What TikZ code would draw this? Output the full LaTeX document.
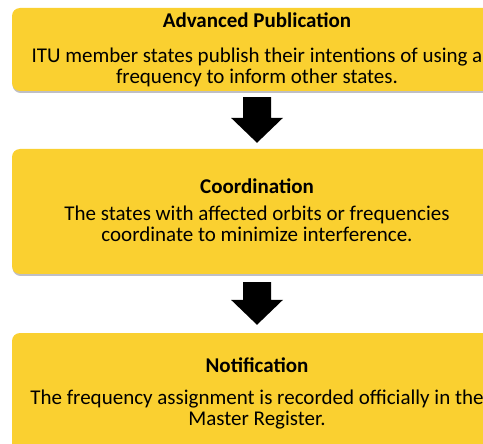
\documentclass[tikz,border=0pt]{standalone}
\usepackage{fontspec}
\setmainfont{Carlito}
\usetikzlibrary{calc,shadows}
\definecolor{boxyellow}{RGB}{250,208,48}
\definecolor{shadowgray}{RGB}{175,175,182}
\begin{document}
\begin{tikzpicture}[x=1pt,y=-1pt,
  stagebox/.style={fill=boxyellow, rounded corners=8pt, minimum width=490pt, inner sep=0pt, draw=none,
    drop shadow={shadow xshift=0.6pt, shadow yshift=-2pt, fill=shadowgray, opacity=0.8}},
  stagetitle/.style={font=\fontsize{21}{21}\selectfont\bfseries, anchor=base, inner sep=0pt},
  stagebody/.style={font=\fontsize{21}{21}\selectfont, anchor=base, inner sep=0pt},
  blockarrow/.style={fill=black}]
\useasboundingbox (0,0) rectangle (483,444);
\clip (0,0) rectangle (483,444);

% boxes
\node[stagebox, minimum height=83pt] (b1) at (257,49.5) {};
\node[stagebox, minimum height=125pt] (b2) at (257,211.5) {};
\node[stagebox, minimum height=127pt] (b3) at (257,396.5) {};

% texts
\node[stagetitle] (t1) at (257,28) {Advanced Publication};
\node[stagebody] (t1a) at (257,63) {ITU member states publish their intentions of using a};
\node[stagebody] (t1b) at (257,83.5) {frequency to inform other states.};

\node[stagetitle] (t2) at (257,194) {Coordination};
\node[stagebody] (t2a) at (257,221) {The states with affected orbits or frequencies};
\node[stagebody] (t2b) at (257,242) {coordinate to minimize interference.};

\node[stagetitle] (t3) at (257,372) {Notification};
\node[stagebody] (t3a) at (257,404) {The frequency assignment is recorded officially in the};
\node[stagebody] (t3b) at (257,425) {Master Register.};

% block arrows
\coordinate (a1s) at ($(b1.south)+(0,6)$);
\coordinate (a1e) at ($(b2.north)+(0,-6)$);
\fill[blockarrow] ($(a1s)+(-14,0)$) -- ($(a1s)+(14,0)$) -- ($(a1e)+(14,-25)$) -- ($(a1e)+(26,-25)$)
  -- (a1e) -- ($(a1e)+(-26,-25)$) -- ($(a1e)+(-14,-25)$) -- cycle;

\coordinate (a2s) at ($(b2.south)+(0,8)$);
\coordinate (a2e) at ($(b3.north)+(0,-8)$);
\fill[blockarrow] ($(a2s)+(-14,0)$) -- ($(a2s)+(14,0)$) -- ($(a2e)+(14,-25)$) -- ($(a2e)+(26,-25)$)
  -- (a2e) -- ($(a2e)+(-26,-25)$) -- ($(a2e)+(-14,-25)$) -- cycle;
\end{tikzpicture}
\end{document}
